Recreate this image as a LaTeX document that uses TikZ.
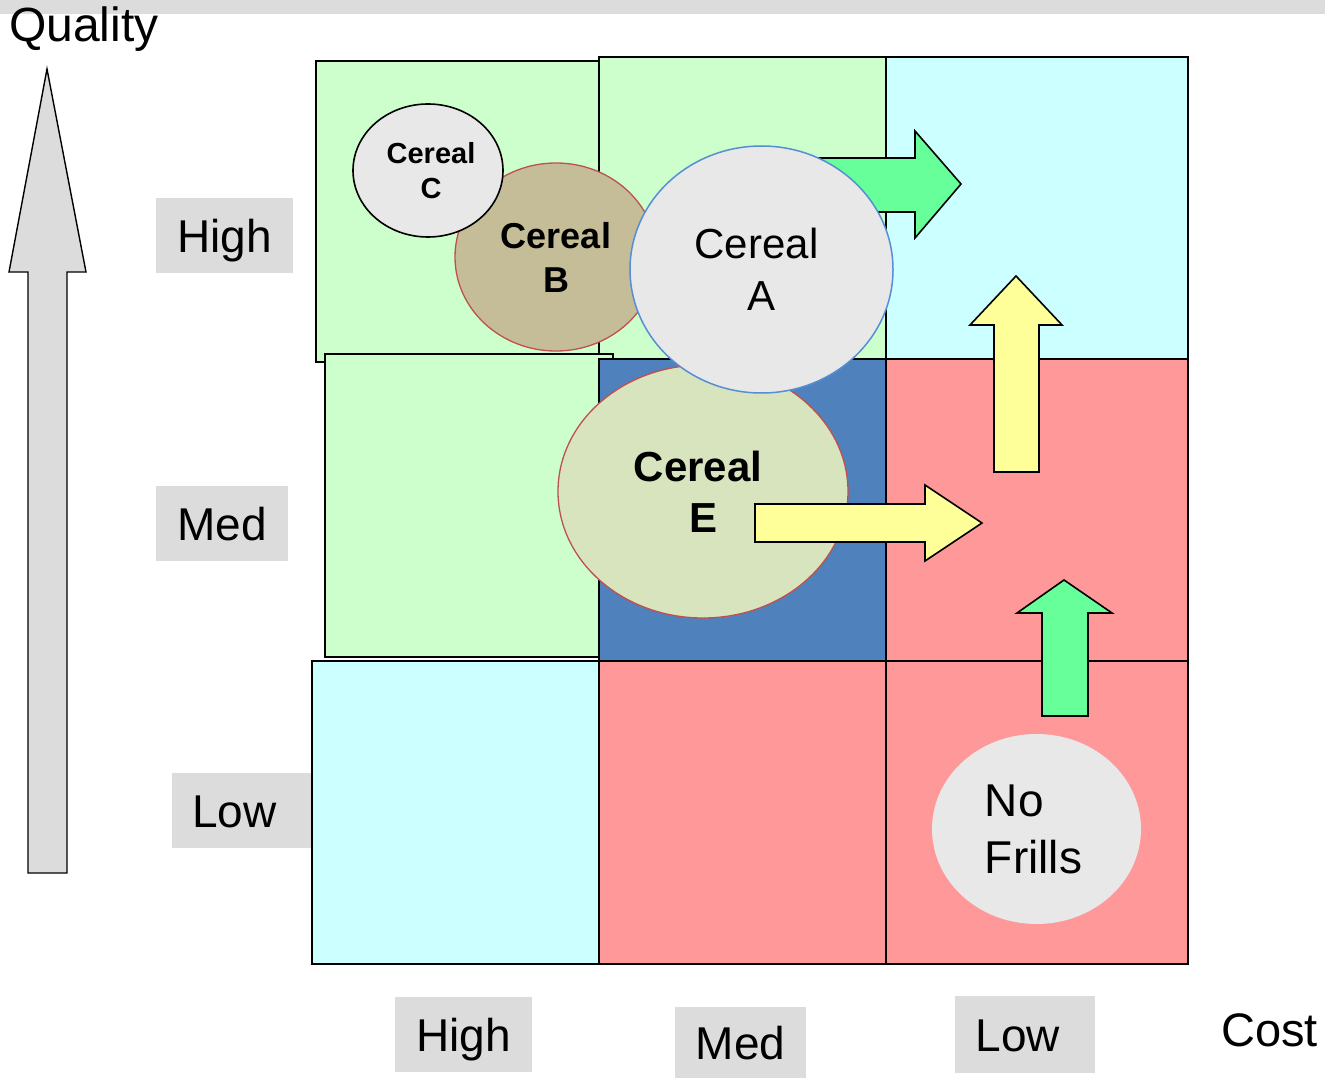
\documentclass[tikz,border=0pt]{standalone}
\usepackage{fontspec}
\setmainfont{Liberation Sans}
\usetikzlibrary{shapes.geometric}
\definecolor{lgray}{HTML}{DCDCDC}
\definecolor{cgreen}{HTML}{CCFFCC}
\definecolor{ccyan}{HTML}{CCFFFF}
\definecolor{cpink}{HTML}{FF9999}
\definecolor{cblue}{HTML}{4F81BD}
\definecolor{egray}{HTML}{E8E8E8}
\definecolor{ebrown}{HTML}{C4BD97}
\definecolor{eolive}{HTML}{D7E4BD}
\definecolor{ered}{HTML}{C0504D}
\definecolor{eblue}{HTML}{558ED5}
\definecolor{agreen}{HTML}{66FF99}
\definecolor{ayellow}{HTML}{FFFF99}
\tikzset{
  lab/.style={fill=lgray, inner sep=0pt, font=\fontsize{46}{46}\selectfont, text height=33pt, text depth=0pt},
  cell/.style={draw=black, line width=1.6pt},
  blockarrow/.style={draw=black, line width=1.6pt, line join=miter},
  cereal/.style={ellipse, inner sep=0pt, align=center},
}
\begin{document}
\begin{tikzpicture}[x=1pt,y=-1pt]
\useasboundingbox (0,0) rectangle (1325,1078);
% top strip
\fill[lgray] (0,0) rectangle (1325,14);
% axis titles
\node[anchor=base west, inner sep=0pt, font=\fontsize{48}{48}\selectfont] (qual) at (9,42) {Quality};
\node[anchor=base west, inner sep=0pt, font=\fontsize{47}{47}\selectfont] (cost) at (1221,1046) {Cost};
% big quality arrow
\draw[fill=lgray, line width=1.4pt, line join=miter] (47,69) -- (86,272) -- (67,272) -- (67,873) -- (28,873) -- (28,272) -- (9,272) -- cycle;
% labels
\node[lab, minimum width=137pt, minimum height=75pt] (qhigh) at (224.5,235.5) {High};
\node[lab, minimum width=132pt, minimum height=75pt] (qmed) at (222,523.5) {Med};
\node[lab, minimum width=139pt, minimum height=75pt] (qlow) at (241.5,810.5) {Low\hspace*{14pt}};
\node[lab, minimum width=137pt, minimum height=75pt] (chigh) at (463.5,1034.5) {High};
\node[lab, minimum width=131pt, minimum height=72pt] (cmed) at (740.5,1043) {Med};
\node[lab, minimum width=140pt, minimum height=77pt] (clow) at (1025,1034.5) {Low\hspace*{14pt}};
% grid cells
\draw[cell, fill=cgreen] (316,61) rectangle (599,362);
\draw[cell, fill=cgreen] (599,57) rectangle (886,359);
\draw[cell, fill=cgreen] (325,354) rectangle (613,657);
\draw[cell, fill=ccyan] (886,57) rectangle (1188,359);
\draw[cell, fill=cpink] (886,359) rectangle (1188,661);
\draw[cell, fill=cblue] (599,359) rectangle (886,661);
\draw[cell, fill=ccyan] (312,661) rectangle (599,964);
\draw[cell, fill=cpink] (599,661) rectangle (886,964);
\draw[cell, fill=cpink] (886,661) rectangle (1188,964);
% green arrow to the right (behind Cereal A)
\draw[blockarrow, fill=agreen] (790,158) -- (915,158) -- (915,131) -- (961,184) -- (915,238) -- (915,212) -- (790,212) -- cycle;
% cereals
\node[cereal, draw=ered, line width=1.3pt, fill=ebrown, minimum width=202pt, minimum height=188pt,
      font=\fontsize{36}{44}\selectfont\bfseries] (cb) at (556,257) {Cereal\\B};
\node[cereal, draw=black, line width=1.6pt, fill=egray, minimum width=150pt, minimum height=133pt,
      font=\fontsize{29}{35}\selectfont\bfseries] (cc) at (428,170.5) {\hspace*{6pt}Cereal\\\hspace*{6pt}C};
\node[cereal, draw=ered, line width=1.3pt, fill=eolive, minimum width=290pt, minimum height=253pt,
      font=\fontsize{42}{51}\selectfont\bfseries] (ce) at (703,491.5) {Cereal\hspace*{10pt}\\E};
\node[cereal, draw=eblue, line width=1.5pt, fill=egray, minimum width=263pt, minimum height=247pt,
      font=\fontsize{42}{52}\selectfont] (ca) at (761.5,269.5) {Cereal\hspace*{10pt}\\A};
% yellow arrow right from E
\draw[blockarrow, fill=ayellow] (755,504) -- (925,504) -- (925,485) -- (982,523) -- (925,561) -- (925,542) -- (755,542) -- cycle;
% yellow arrow up
\draw[blockarrow, fill=ayellow] (1016,276) -- (1062,325) -- (1039,325) -- (1039,472) -- (994,472) -- (994,325) -- (970,325) -- cycle;
% green arrow up
\draw[blockarrow, fill=agreen] (1064,580) -- (1112,613) -- (1088,613) -- (1088,716) -- (1042,716) -- (1042,613) -- (1017,613) -- cycle;
% No Frills
\node[cereal, align=left, fill=egray, minimum width=209pt, minimum height=190pt,
      font=\fontsize{46}{57}\selectfont] (nf) at (1036.5,829) {No\\Frills\hspace*{6pt}};
\end{tikzpicture}
\end{document}
